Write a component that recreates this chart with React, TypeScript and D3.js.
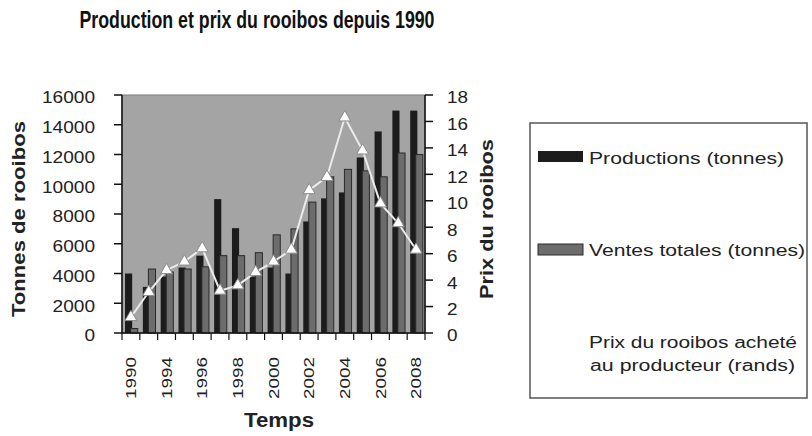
import * as d3 from 'd3';

// categories (only every second one is labelled on the axis)
const years = ['1990', '1993', '1994', '1995', '1996', '1997', '1998', '1999', '2000', '2001', '2002', '2003', '2004', '2005', '2006', '2007', '2008'];
// tonnes
const production = [4000, 3100, 3800, 4400, 5200, 9000, 7050, 3800, 4400, 4000, 7500, 9050, 9450, 11800, 13550, 14950, 14950];
const sales = [300, 4300, 4100, 4300, 4450, 5200, 5200, 5400, 6600, 7000, 8800, 10500, 11000, 10900, 10500, 12100, 12000];
// rands
const price = [1.2, 3.1, 4.75, 5.4, 6.4, 3.2, 3.6, 4.6, 5.4, 6.3, 10.8, 11.8, 16.3, 13.8, 9.8, 8.3, 6.3];

const leftTicks = [0, 2000, 4000, 6000, 8000, 10000, 12000, 14000, 16000];
const rightTicks = [0, 2, 4, 6, 8, 10, 12, 14, 16, 18];

const W = 812;
const H = 436;
const plot = { left: 122, right: 425, top: 95, bottom: 333 };

const FONT = 'Liberation Sans, Arial, sans-serif';

export default function App() {
  const x = d3.scaleBand<string>()
    .domain(years)
    .range([plot.left, plot.right])
    .padding(0);
  const step = x.bandwidth();

  const yLeft = d3.scaleLinear().domain([0, 16000]).range([plot.bottom, plot.top]);
  const yRight = d3.scaleLinear().domain([0, 18]).range([plot.bottom, plot.top]);

  // bar layout inside a category (overlapping clustered bars)
  const barW = step * 0.4;
  const darkOff = step * 0.17;
  const grayOff = step * 0.48;

  const line = d3.line<number>()
    .x((_, i) => (x(years[i]) || 0) + step / 2)
    .y(d => yRight(d));

  const tri = d3.symbol().type(d3.symbolTriangle).size(62)();

  return (
    <svg width={W} height={H} style={{ position: 'absolute', left: 0, top: 0, background: '#fff' }}
      fontFamily={FONT}>
      {/* title */}
      <text x={257} y={28} textAnchor="middle" fontSize={24} fontWeight="bold" fill="#111"
        textLength={355} lengthAdjust="spacingAndGlyphs">
        Production et prix du rooibos depuis 1990
      </text>

      {/* plot area */}
      <rect x={plot.left} y={plot.top} width={plot.right - plot.left} height={plot.bottom - plot.top}
        fill="#a4a4a4" stroke="#7a7a7a" strokeWidth={1} />

      {/* production bars */}
      {production.map((v, i) => (
        <rect key={'p' + i} x={(x(years[i]) || 0) + darkOff} width={barW}
          y={yLeft(v)} height={plot.bottom - yLeft(v)} fill="#1c1c1c" />
      ))}
      {/* sales bars */}
      {sales.map((v, i) => (
        <rect key={'s' + i} x={(x(years[i]) || 0) + grayOff} width={barW}
          y={yLeft(v)} height={plot.bottom - yLeft(v)} fill="#6c6c6c" stroke="#2a2a2a" strokeWidth={1} />
      ))}

      {/* price line */}
      <path d={line(price) || ''} fill="none" stroke="#ececec" strokeWidth={2} />
      {price.map((v, i) => (
        <path key={'m' + i} d={tri || ''}
          transform={`translate(${(x(years[i]) || 0) + step / 2},${yRight(v)})`}
          fill="#ffffff" stroke="#8a8a8a" strokeWidth={1} />
      ))}

      {/* left axis */}
      <line x1={plot.left} x2={plot.left} y1={plot.top} y2={plot.bottom} stroke="#111" strokeWidth={1.5} />
      {leftTicks.map(t => (
        <g key={'l' + t}>
          <line x1={plot.left - 8} x2={plot.left} y1={yLeft(t)} y2={yLeft(t)} stroke="#111" strokeWidth={1.5} />
          <text x={95} y={yLeft(t) + 2.5} dy="0.35em" textAnchor="end" fontSize={17} fill="#222"
            textLength={String(t).length * 10.6} lengthAdjust="spacingAndGlyphs">{t}</text>
        </g>
      ))}

      {/* right axis */}
      <line x1={plot.right} x2={plot.right} y1={plot.top} y2={plot.bottom} stroke="#111" strokeWidth={1.5} />
      {rightTicks.map(t => (
        <g key={'r' + t}>
          <line x1={plot.right} x2={plot.right + 8} y1={yRight(t)} y2={yRight(t)} stroke="#111" strokeWidth={1.5} />
          <text x={447} y={yRight(t) + 2.5} dy="0.35em" textAnchor="start" fontSize={17} fill="#222"
            textLength={String(t).length * 10.5} lengthAdjust="spacingAndGlyphs">{t}</text>
        </g>
      ))}

      {/* x axis */}
      <line x1={plot.left} x2={plot.right} y1={plot.bottom} y2={plot.bottom} stroke="#111" strokeWidth={1.5} />
      {d3.range(years.length + 1).map(i => {
        const xx = plot.left + i * step;
        return <line key={'xt' + i} x1={xx} x2={xx} y1={plot.bottom} y2={plot.bottom + 7} stroke="#111" strokeWidth={1.2} />;
      })}
      {years.map((yr, i) => i % 2 === 0 ? (
        <text key={'xl' + yr} transform={`translate(${(x(yr) || 0) + step / 2},357) rotate(-90)`}
          dy="0.35em" textAnchor="end" fontSize={15} fill="#222"
          textLength={42} lengthAdjust="spacingAndGlyphs">{yr}</text>
      ) : null)}

      {/* axis titles */}
      <text x={279} y={427} textAnchor="middle" fontSize={20} fontWeight="bold" fill="#222"
        textLength={70} lengthAdjust="spacingAndGlyphs">Temps</text>
      <text transform="translate(19,219) rotate(-90)" dy="0.35em" textAnchor="middle" fontSize={18}
        fontWeight="bold" fill="#222" textLength={196} lengthAdjust="spacingAndGlyphs">Tonnes de rooibos</text>
      <text transform="translate(487,219) rotate(-90)" dy="0.35em" textAnchor="middle" fontSize={18}
        fontWeight="bold" fill="#222" textLength={160} lengthAdjust="spacingAndGlyphs">Prix du rooibos</text>

      {/* legend */}
      <rect x={530} y={123} width={277} height={275} fill="#fff" stroke="#555" strokeWidth={1.5} />
      <rect x={538} y={151} width={45} height={11} fill="#1c1c1c" />
      <text x={589} y={164} fontSize={17} fill="#222" textLength={195} lengthAdjust="spacingAndGlyphs">
        Productions (tonnes)
      </text>
      <rect x={538} y={244} width={45} height={11} fill="#6c6c6c" stroke="#2a2a2a" strokeWidth={1} />
      <text x={589} y={256} fontSize={17} fill="#222" textLength={216} lengthAdjust="spacingAndGlyphs">
        Ventes totales (tonnes)
      </text>
      <text x={589} y={348} fontSize={16} fill="#222" textLength={208} lengthAdjust="spacingAndGlyphs">
        Prix du rooibos acheté
      </text>
      <text x={590} y={371} fontSize={16} fill="#222" textLength={205} lengthAdjust="spacingAndGlyphs">
        au producteur (rands)
      </text>
    </svg>
  );
}
